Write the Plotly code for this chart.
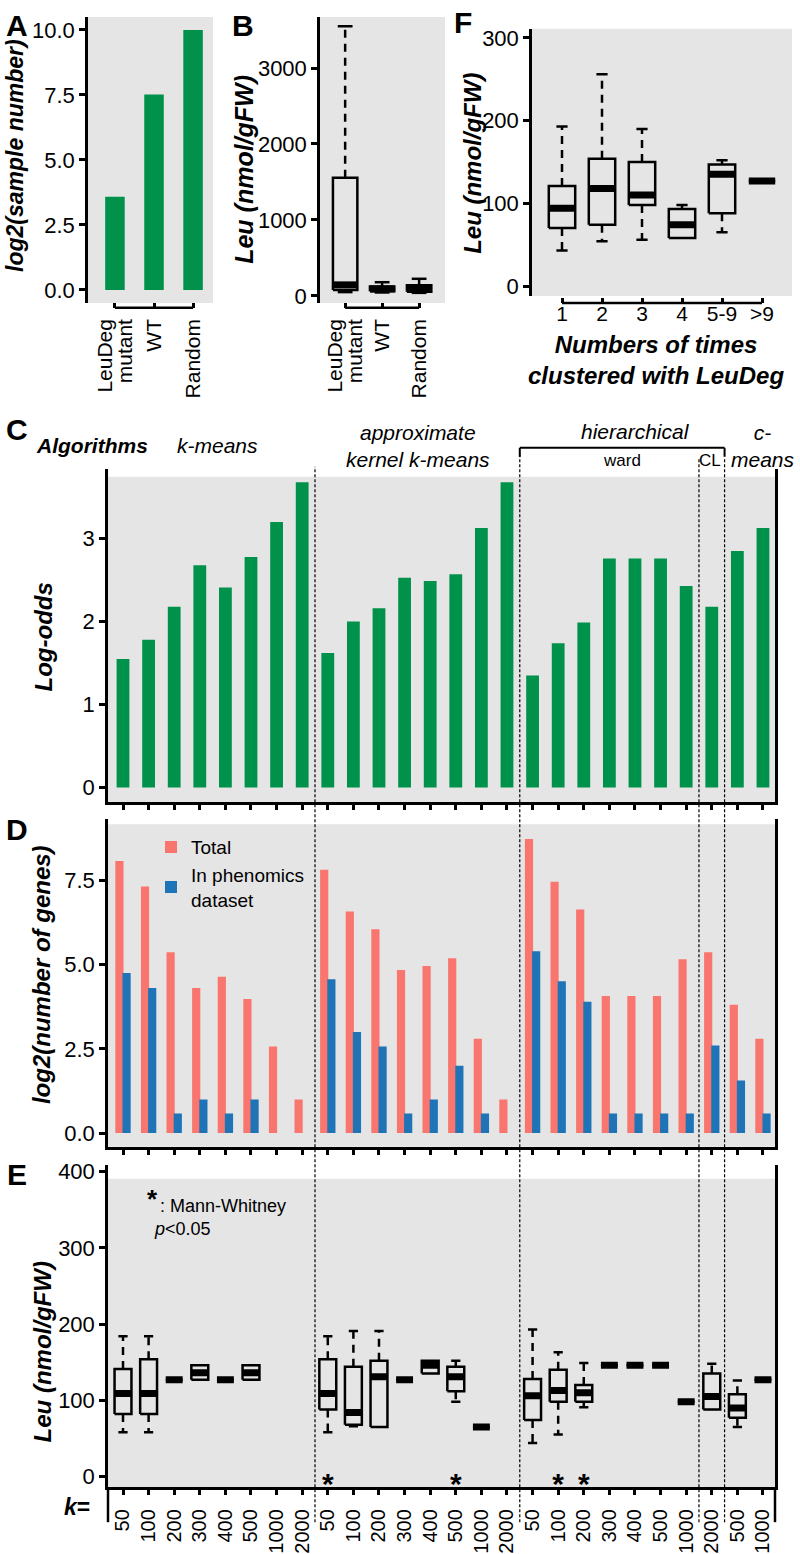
import plotly.graph_objects as go

W, H = 800, 1554
FONT = "Liberation Sans, Arial, Helvetica, sans-serif"
GREEN = "#00924A"
RED = "#F8766D"
BLUE = "#1F73B7"
GRAY = "#E5E5E5"
LW = 2.5


def X(p):
    return p / W


def Y(p):
    return 1 - p / H


# ---------------- data ----------------
# Panel A
a_cats = ["LeuDeg<br>mutant", "WT", "Random"]
a_vals = [3.58, 7.52, 10.0]

# Panel B (box stats, Leu nmol/gFW)
b_cats = ["LeuDeg<br>mutant", "WT", "Random"]
b_lo = [50, 45, 40]
b_q1 = [78, 60, 55]
b_med = [145, 92, 95]
b_q3 = [1555, 125, 140]
b_hi = [3550, 180, 225]

# Panel F
f_cats = ["1", "2", "3", "4", "5-9", ">9"]
f_lo = [43, 54, 56, 58, 65, 127]
f_q1 = [70, 74, 98, 58, 88, 127]
f_med = [94, 118, 110, 74, 135, 127]
f_q3 = [121, 154, 150, 93, 147, 127]
f_hi = [193, 256, 190, 98, 152, 127]

# Panels C, D, E share k values
k_groups = [
    ["50", "100", "200", "300", "400", "500", "1000", "2000"],   # k-means
    ["50", "100", "200", "300", "400", "500", "1000", "2000"],   # approximate kernel k-means
    ["50", "100", "200", "300", "400", "500", "1000"],           # hierarchical ward
    ["2000"],                                                    # hierarchical CL
    ["500", "1000"],                                             # c-means
]
k_labels = [k for g in k_groups for k in g]

# Panel C: log-odds
c_vals = [1.55, 1.78, 2.18, 2.68, 2.41, 2.78, 3.20, 3.68,
          1.62, 2.00, 2.16, 2.53, 2.49, 2.57, 3.13, 3.68,
          1.35, 1.74, 1.99, 2.76, 2.76, 2.76, 2.43, 2.18,
          2.85, 3.13]

# Panel D: log2(number of genes)
d_total = [8.08, 7.32, 5.37, 4.31, 4.64, 3.98, 2.57, 1.00,
           7.82, 6.58, 6.05, 4.84, 4.96, 5.19, 2.80, 1.00,
           8.73, 7.46, 6.64, 4.07, 4.07, 4.07, 5.16, 5.37,
           3.81, 2.80]
d_pheno = [4.75, 4.31, 0.58, 1.00, 0.58, 1.00, 0, 0,
           4.57, 3.00, 2.57, 0.58, 1.00, 2.00, 0.58, 0,
           5.40, 4.51, 3.90, 0.58, 0.58, 0.58, 0.58, 2.60,
           1.56, 0.58]

# Panel E: box stats (None = no data)
e_lo = [58, 58, 127, 127, 127, 127, None, None,
        58, 66, 65, 127, 135, 98, 65, None,
        44, 55, 91, 146, 146, 146, 98, 88,
        65, 127]
e_q1 = [82, 82, 127, 127, 127, 127, None, None,
        88, 68, 65, 127, 135, 112, 65, None,
        74, 98, 98, 146, 146, 146, 98, 88,
        77, 127]
e_med = [109, 109, 127, 136, 127, 136, None, None,
         109, 84, 131, 127, 146, 131, 65, None,
         106, 113, 110, 146, 146, 146, 98, 105,
         90, 127]
e_q3 = [141, 154, 127, 146, 127, 146, None, None,
        154, 144, 152, 127, 152, 144, 65, None,
        128, 140, 120, 146, 146, 146, 98, 135,
        108, 127]
e_hi = [184, 184, 127, 146, 127, 146, None, None,
        184, 191, 191, 127, 152, 152, 65, None,
        193, 163, 149, 146, 146, 146, 98, 148,
        126, 127]
e_signif = [0, 0, 0, 0, 0, 0, 0, 0,
            1, 0, 0, 0, 0, 1, 0, 0,
            0, 1, 1, 0, 0, 0, 0, 0,
            0, 0]

# ---------------- figure ----------------
fig = go.Figure()


def add_boxes(pos, lo, q1, med, q3, hi, hw, cw, xa, ya):
    rx, ry, mx, my, wx, wy, cx, cy = [], [], [], [], [], [], [], []
    for p, l, a, m, b, h in zip(pos, lo, q1, med, q3, hi):
        if m is None:
            continue
        rx += [p - hw, p + hw, p + hw, p - hw, p - hw, None]
        ry += [a, a, b, b, a, None]
        mx += [p - hw, p + hw, None]
        my += [m, m, None]
        if h > b:
            wx += [p, p, None]
            wy += [b, h, None]
            cx += [p - cw, p + cw, None]
            cy += [h, h, None]
        if l < a:
            wx += [p, p, None]
            wy += [a, l, None]
            cx += [p - cw, p + cw, None]
            cy += [l, l, None]
    common = dict(mode="lines", xaxis=xa, yaxis=ya, showlegend=False, hoverinfo="skip")
    fig.add_trace(go.Scatter(x=wx, y=wy, line=dict(color="black", width=LW, dash="8px,6px"), **common))
    fig.add_trace(go.Scatter(x=cx, y=cy, line=dict(color="black", width=LW), **common))
    fig.add_trace(go.Scatter(x=rx, y=ry, line=dict(color="black", width=LW), **common))
    fig.add_trace(go.Scatter(x=mx, y=my, line=dict(color="black", width=7), **common))


# A
a_pos = list(range(len(a_cats)))
fig.add_trace(go.Bar(x=a_pos, y=a_vals, width=0.5, marker=dict(color=GREEN, line_width=0),
                     xaxis="x", yaxis="y", showlegend=False))
# B
b_pos = list(range(len(b_cats)))
add_boxes(b_pos, b_lo, b_q1, b_med, b_q3, b_hi, 0.33, 0.2, "x2", "y2")
# F
f_pos = list(range(len(f_cats)))
add_boxes(f_pos, f_lo, f_q1, f_med, f_q3, f_hi, 0.33, 0.14, "x3", "y3")
# C
k_pos = list(range(len(k_labels)))
fig.add_trace(go.Bar(x=k_pos, y=c_vals, width=0.5, marker=dict(color=GREEN, line_width=0),
                     xaxis="x4", yaxis="y4", showlegend=False))
# D
fig.add_trace(go.Bar(x=k_pos, y=d_total, width=0.32, offset=-0.3, name="Total",
                     marker=dict(color=RED, line_width=0), xaxis="x5", yaxis="y5"))
fig.add_trace(go.Bar(x=k_pos, y=d_pheno, width=0.32, offset=-0.02, name="In phenomics<br>dataset",
                     marker=dict(color=BLUE, line_width=0), xaxis="x5", yaxis="y5"))
# E
add_boxes(k_pos, e_lo, e_q1, e_med, e_q3, e_hi, 0.33, 0.18, "x6", "y6")
star_x = [p for p, s in zip(k_pos, e_signif) if s]
fig.add_trace(go.Scatter(x=star_x, y=[-13] * len(star_x), mode="text", text=["*"] * len(star_x),
                         textfont=dict(size=30, color="black", family=FONT, weight="bold"),
                         xaxis="x6", yaxis="y6", showlegend=False, hoverinfo="skip"))

# ---------------- axes ----------------
tick_y = dict(ticks="outside", ticklen=6, tickwidth=LW, tickcolor="black", showline=True,
              linewidth=LW, linecolor="black", showgrid=False, zeroline=False,
              tickfont=dict(size=22, color="black", family=FONT))
tick_xb = dict(ticks="inside", ticklen=5, tickwidth=LW, tickcolor="black", showline=False,
               showgrid=False, zeroline=False, anchor="free",
               tickfont=dict(size=21, color="black", family=FONT))
tick_xk = dict(ticks="outside", ticklen=5, tickwidth=LW, tickcolor="black", showline=True,
               linewidth=LW, linecolor="black", showgrid=False, zeroline=False,
               domain=[X(108), X(775)], range=[-0.586, len(k_labels) - 1 + 0.47],
               tickvals=k_pos)

a_range = [-0.69, 2.51]
b_range = [-0.68, 2.70]

layout = dict(
    width=W, height=H, margin=dict(l=0, r=0, t=0, b=0), autosize=False,
    paper_bgcolor="white", plot_bgcolor="rgba(0,0,0,0)",
    font=dict(family=FONT, color="black"),
    barmode="overlay",
    xaxis=dict(domain=[X(88), X(213)], range=a_range, position=Y(305),
               tickvals=a_pos, showticklabels=False, **tick_xb),
    yaxis=dict(domain=[Y(300), Y(12)], range=[-0.5, 10.5], anchor="x",
               tickvals=[0, 2.5, 5, 7.5, 10], tickformat=".1f", **tick_y),
    xaxis2=dict(domain=[X(320), X(445)], range=b_range, position=Y(305),
                tickvals=b_pos, showticklabels=False, **tick_xb),
    yaxis2=dict(domain=[Y(300), Y(12)], range=[-92, 3673], anchor="x2",
                tickvals=[0, 1000, 2000, 3000], **tick_y),
    xaxis3=dict(domain=[X(532), X(792)], range=[-0.75, 5.75], position=Y(300),
                tickvals=f_pos, ticktext=f_cats, tickangle=0, ticklabelstandoff=-4, **tick_xb),
    yaxis3=dict(domain=[Y(293), Y(24)], range=[-12, 311], anchor="x3",
                tickvals=[0, 100, 200, 300], **tick_y),
    xaxis4=dict(anchor="y4", showticklabels=False, **tick_xk),
    yaxis4=dict(domain=[Y(803), Y(467)], range=[-0.18, 3.844], anchor="x4", mirror=True,
                tickvals=[0, 1, 2, 3], **tick_y),
    xaxis5=dict(anchor="y5", showticklabels=False, **tick_xk),
    yaxis5=dict(domain=[Y(1150), Y(820)], range=[-0.41, 9.32], anchor="x5", mirror=True,
                tickvals=[0, 2.5, 5, 7.5], tickformat=".1f", **tick_y),
    xaxis6=dict(anchor="y6", ticktext=k_labels, tickangle=-90, ticklabelstandoff=6,
                tickfont=dict(size=20, color="black", family=FONT), **tick_xk),
    yaxis6=dict(domain=[Y(1493), Y(1168)], range=[-14.3, 409], anchor="x6", mirror=True,
                tickvals=[0, 100, 200, 300, 400], **tick_y),
    legend=dict(x=X(151), y=Y(829), xanchor="left", yanchor="top", bgcolor="rgba(0,0,0,0)",
                font=dict(size=19, color="black", family=FONT), itemwidth=30, tracegroupgap=4),
)

# label-only overlay axes for the rotated A / B category labels (one axis per text line)
LINE_SHIFT_PX = 20
ax_id = 7
for base, ybase, cats, pos, rng, dom in [("x", "y", a_cats, a_pos, a_range, [X(88), X(213)]),
                                         ("x2", "y2", b_cats, b_pos, b_range, [X(320), X(445)])]:
    upp = (rng[1] - rng[0]) / ((dom[1] - dom[0]) * W)   # data units per pixel
    split = [c.split("<br>") for c in cats]
    nmax = max(len(s) for s in split)
    for li in range(nmax):
        tv, tt = [], []
        for p, s in zip(pos, split):
            if li < len(s):
                tv.append(p + (li - (len(s) - 1) / 2) * LINE_SHIFT_PX * upp)
                tt.append(s[li])
        layout["xaxis%d" % ax_id] = dict(
            overlaying=base, anchor="free", position=Y(305), range=rng, domain=dom,
            tickvals=tv, ticktext=tt, tickangle=-90, ticks="", showline=False,
            showgrid=False, zeroline=False, ticklabelstandoff=6,
            tickfont=dict(size=21, color="black", family=FONT))
        # invisible placeholder trace so the label axis is instantiated
        fig.add_trace(go.Scatter(x=[pos[0]], y=[0], mode="markers", marker=dict(opacity=0),
                                 xaxis="x%d" % ax_id, yaxis=ybase, showlegend=False, hoverinfo="skip"))
        ax_id += 1

fig.update_layout(**layout)

# ---------------- shapes ----------------
shapes = []
for (x0, x1, y0, y1) in [(88, 213, 12, 300), (320, 445, 12, 300), (532, 792, 24, 293),
                         (108, 775, 475, 803), (108, 775, 825, 1150), (108, 775, 1182, 1493)]:
    shapes.append(dict(type="rect", xref="paper", yref="paper", x0=X(x0), x1=X(x1), y0=Y(y1), y1=Y(y0),
                       fillcolor=GRAY, line=dict(width=0), layer="below"))

# bracket axis lines (A, B, F)
for xr, n, yp in [("x", len(a_cats), 305), ("x2", len(b_cats), 305), ("x3", len(f_cats), 300)]:
    shapes.append(dict(type="line", xref=xr, yref="paper", x0=0, x1=n - 1, y0=Y(yp), y1=Y(yp),
                       line=dict(color="black", width=LW)))

# group dividers
bounds = []
acc = 0
for g in k_groups[:-1]:
    acc += len(g)
    bounds.append(acc - 0.5)
div_tops = [465, 453, 457, 457]
for b, t in zip(bounds, div_tops):
    shapes.append(dict(type="line", xref="x6", yref="paper", x0=b, x1=b, y0=Y(1528), y1=Y(t),
                       line=dict(color="black", width=1.2, dash="3px,2px")))

# hierarchical bracket
h0, h1 = bounds[1], bounds[3]
for (xa, xb, ya, yb) in [(h0, h1, 446, 446), (h0, h0, 446, 455), (h1, h1, 446, 455)]:
    shapes.append(dict(type="line", xref="x4", yref="paper", x0=xa, x1=xb, y0=Y(ya), y1=Y(yb),
                       line=dict(color="black", width=2)))

# E frame extension through label area
for xp in [108, 775]:
    shapes.append(dict(type="line", xref="paper", yref="paper", x0=X(xp), x1=X(xp), y0=Y(1493), y1=Y(1528),
                       line=dict(color="black", width=LW)))
fig.update_layout(shapes=shapes)

# ---------------- annotations ----------------
ann = []


def txt(text, x, y, size, xanchor="center", angle=0):
    ann.append(dict(text=text, x=X(x), y=Y(y), xref="paper", yref="paper", showarrow=False,
                    xanchor=xanchor, yanchor="middle", textangle=angle,
                    font=dict(size=size, color="black", family=FONT)))


for lab, x, y in [("A", 17, 21), ("B", 243, 21), ("F", 463, 18), ("C", 17, 428), ("D", 17, 830), ("E", 17, 1178)]:
    txt("<b>%s</b>" % lab, x, y, 30)

txt("<b><i>log2(sample number)</i></b>", 15, 152, 23, angle=-90)
txt("<b><i>Leu (nmol/gFW)</i></b>", 244, 166, 25, angle=-90)
txt("<b><i>Leu (nmol/gFW)</i></b>", 473, 160, 24, angle=-90)
txt("<b><i>Log-odds</i></b>", 43, 637, 24, angle=-90)
txt("<b><i>log2(number of genes)</i></b>", 41, 977, 24, angle=-90)
txt("<b><i>Leu (nmol/gFW)</i></b>", 42, 1357, 24, angle=-90)

txt("<b><i>Numbers of times<br>clustered with LeuDeg</i></b>", 656, 358, 24)

txt("<b><i>Algorithms</i></b>", 92, 444, 21)
txt("<i>k-means</i>", 217, 444, 21)
txt("<i>approximate<br>kernel k-means</i>", 418, 444, 21)
txt("<i>hierarchical</i>", 635, 430, 21)
txt("ward", 622, 459, 17)
txt("CL", 710, 459, 17)
txt("<i>c-<br>means</i>", 763, 444, 21)

txt("<b>*</b>", 152, 1203, 26)
txt(": Mann-Whitney", 158, 1210, 18, xanchor="left")
txt("<i>p</i>&lt;0.05", 152, 1233, 18, xanchor="left")
txt("<b><i>k</i>=</b>", 77, 1513, 23)

fig.update_layout(annotations=ann)

fig.write_html("out.html", config={"displayModeBar": False},
               post_script="document.body.style.margin='0';")
